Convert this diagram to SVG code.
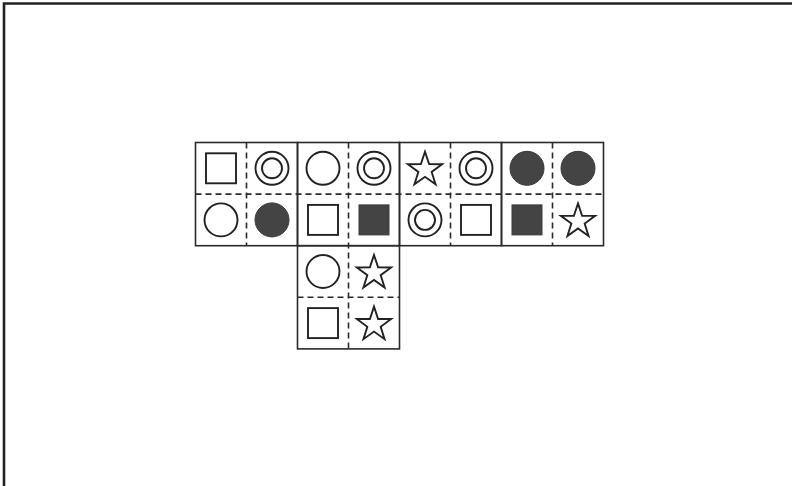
<svg xmlns="http://www.w3.org/2000/svg" xmlns:xlink="http://www.w3.org/1999/xlink" width="792" height="486" viewBox="0 0 792 486">
<style>
.frame{fill:none;stroke:#222;stroke-width:2.6}
.solid{fill:none;stroke:#2a2a2a;stroke-width:1.6}
.dash{fill:none;stroke:#2a2a2a;stroke-width:1.6;stroke-dasharray:6 4}
.open{fill:#fff;stroke:#222;stroke-width:1.9}
.fill{fill:#444;stroke:#3a3a3a;stroke-width:1}
</style>
<defs>
<rect id="sq" x="-15" y="-15" width="30" height="30" class="open"/>
<rect id="fsq" x="-15" y="-15" width="30" height="30" class="fill"/>
<circle id="ci" r="16.5" class="open"/>
<circle id="fci" r="17" class="fill"/>
<g id="dci"><circle r="16.5" class="open"/><circle r="10" class="open"/></g>
<polygon id="st" class="open" points="0,-18 4.11,-5.66 17.12,-5.56 6.66,2.16 10.58,14.56 0,7 -10.58,14.56 -6.66,2.16 -17.12,-5.56 -4.11,-5.66" transform="translate(0,1.5)"/>
</defs>
<rect width="792" height="486" fill="#fff"/>
<path class="frame" d="M4,486 V3.5 H792"/>
<g id="grid">
<rect class="solid" x="195.5" y="142.5" width="102" height="103.2"/>
<rect class="solid" x="297.5" y="142.5" width="102" height="103.2"/>
<rect class="solid" x="399.5" y="142.5" width="102" height="103.2"/>
<rect class="solid" x="501.5" y="142.5" width="102" height="103.2"/>
<rect class="solid" x="297.5" y="245.7" width="102" height="103.2"/>
<path class="dash" d="M195.5,194.1 H603.5 M297.5,297.3 H399.5 M246.5,142.5 V245.7 M348.5,142.5 V348.9 M450.5,142.5 V245.7 M552.5,142.5 V245.7"/>
</g>
<g id="r0c0"><use xlink:href="#sq" x="221" y="168.3"/></g>
<g id="r0c1"><use xlink:href="#dci" x="272" y="168.3"/></g>
<g id="r0c2"><use xlink:href="#ci" x="323" y="168.3"/></g>
<g id="r0c3"><use xlink:href="#dci" x="374" y="168.3"/></g>
<g id="r0c4"><use xlink:href="#st" x="425" y="168.3"/></g>
<g id="r0c5"><use xlink:href="#dci" x="476" y="168.3"/></g>
<g id="r0c6"><use xlink:href="#fci" x="527" y="168.3"/></g>
<g id="r0c7"><use xlink:href="#fci" x="578" y="168.3"/></g>
<g id="r1c0"><use xlink:href="#ci" x="221" y="219.9"/></g>
<g id="r1c1"><use xlink:href="#fci" x="272" y="219.9"/></g>
<g id="r1c2"><use xlink:href="#sq" x="323" y="219.9"/></g>
<g id="r1c3"><use xlink:href="#fsq" x="374" y="219.9"/></g>
<g id="r1c4"><use xlink:href="#dci" x="425" y="219.9"/></g>
<g id="r1c5"><use xlink:href="#sq" x="476" y="219.9"/></g>
<g id="r1c6"><use xlink:href="#fsq" x="527" y="219.9"/></g>
<g id="r1c7"><use xlink:href="#st" x="578" y="219.9"/></g>
<g id="r2c2"><use xlink:href="#ci" x="323" y="271.5"/></g>
<g id="r2c3"><use xlink:href="#st" x="374" y="271.5"/></g>
<g id="r3c2"><use xlink:href="#sq" x="323" y="323.1"/></g>
<g id="r3c3"><use xlink:href="#st" x="374" y="323.1"/></g>
</svg>
